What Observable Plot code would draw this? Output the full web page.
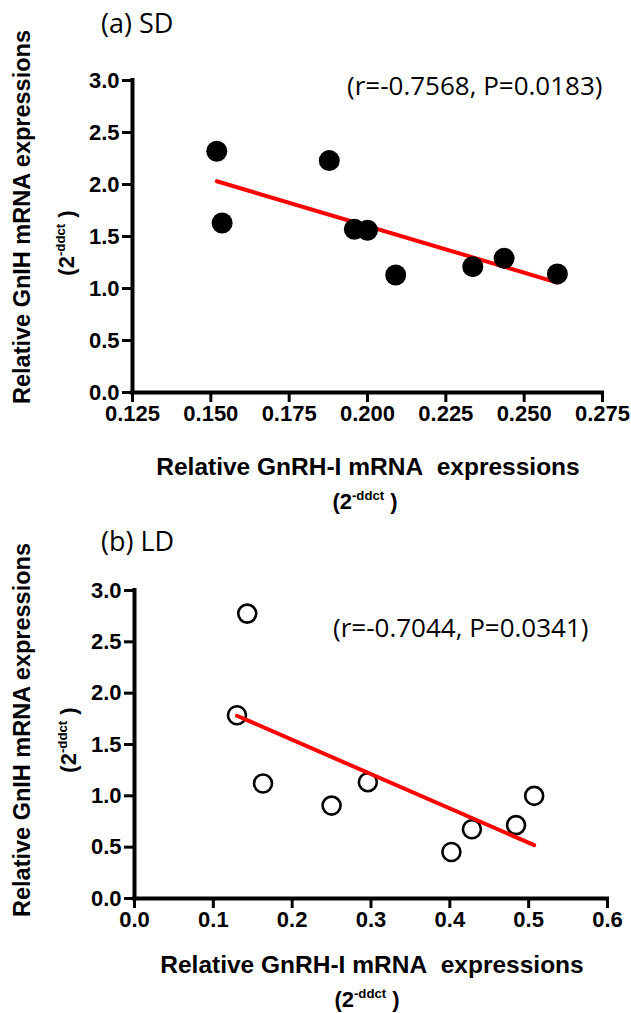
<!DOCTYPE html>
<html>
<head>
<meta charset="utf-8">
<script src="https://cdn.jsdelivr.net/npm/d3@7"></script>
<script src="https://cdn.jsdelivr.net/npm/@observablehq/plot@0.6"></script>
<style>
  html, body { margin: 0; padding: 0; background: #fff; }
  #root { position: relative; width: 631px; height: 1013px; overflow: hidden; background: #fff; }
  .panel { position: absolute; left: 0; }
  .t { position: absolute; white-space: nowrap; color: #000; line-height: 1; }
  .title, .note { font-family: "Open Sans", "Lato", sans-serif; font-weight: normal; }
  .title { font-size: 27px; }
  .note { font-size: 26px; }
  .lab { font-family: "Liberation Sans", Arial, sans-serif; font-weight: bold; }
  .c { transform: translate(-50%, -50%); }
  .r { transform: translate(-50%, -50%) rotate(-90deg); }
  sup { font-size: 0.6em; vertical-align: 0.7em; line-height: 0; }
</style>
</head>
<body>
<div id="root"></div>
<script>
// ---------- data ----------
const sdX = [0.1519, 0.1536, 0.1878, 0.1958, 0.2000, 0.2090, 0.2336, 0.2436, 0.2606];
const sdY = [2.32, 1.63, 2.23, 1.57, 1.56, 1.13, 1.21, 1.29, 1.14];
const ldX = [0.130, 0.143, 0.163, 0.250, 0.296, 0.402, 0.428, 0.484, 0.507];
const ldY = [1.785, 2.775, 1.12, 0.905, 1.133, 0.453, 0.674, 0.715, 1.00];

const yTicks = [0, 0.5, 1.0, 1.5, 2.0, 2.5, 3.0];
const sdXTicks = [0.125, 0.150, 0.175, 0.200, 0.225, 0.250, 0.275];
const ldXTicks = [0, 0.1, 0.2, 0.3, 0.4, 0.5, 0.6];

const titles = ["(a) SD", "(b) LD"];
const notes = ["(r=-0.7568, P=0.0183)", "(r=-0.7044, P=0.0341)"];
const yLabel = "Relative GnIH mRNA expressions";
const xLabel = "Relative GnRH-I mRNA\u00a0\u00a0expressions";
const unitBase = "(2";
const unitSup = "-ddct";
const unitEnd = "\u00a0)";

// ---------- drawing ----------
const root = document.getElementById("root");

function rows(xs, ys) { return xs.map((x, i) => ({x, y: ys[i]})); }

function panel({data, xDomain, xTicks, xFmt, top, height, margins, filled}) {
  const dots = filled
    ? Plot.dot(data, {x: "x", y: "y", r: 10.5, fill: "black"})
    : Plot.dot(data, {x: "x", y: "y", r: 9, fill: "white", stroke: "black", strokeWidth: 2.6});
  const reg = Plot.linearRegressionY(data, {x: "x", y: "y", stroke: "#ff0000", strokeWidth: 4, ci: 0});
  const chart = Plot.plot({
    width: 631,
    height,
    ...margins,
    style: {fontFamily: "Liberation Sans, Arial, sans-serif", fontSize: "22px", fontWeight: "bold", color: "black", background: "transparent", overflow: "visible"},
    x: {domain: xDomain, ticks: xTicks},
    y: {domain: [0, 3], ticks: yTicks},
    marks: [
      Plot.axisX({ticks: xTicks, tickFormat: d3.format(xFmt), tickSize: 10, tickPadding: 3, strokeWidth: 3, label: null, fontSize: 22, fontWeight: "bold"}),
      Plot.axisY({ticks: yTicks, tickFormat: d3.format(".1f"), tickSize: 10, tickPadding: 3, strokeWidth: 3, label: null, fontSize: 22, fontWeight: "bold"}),
      Plot.ruleY([0], {strokeWidth: 4, strokeLinecap: "square"}),
      Plot.ruleX([xDomain[0]], {strokeWidth: 4, strokeLinecap: "square"}),
      ...(filled ? [reg, dots] : [dots, reg])
    ]
  });
  chart.classList.add("panel");
  chart.style.top = top + "px";
  root.appendChild(chart);
}

panel({data: rows(sdX, sdY), xDomain: [0.125, 0.275], xTicks: sdXTicks, xFmt: ".3f",
  top: 0, height: 440, margins: {marginTop: 80, marginBottom: 48, marginLeft: 132, marginRight: 29}, filled: true});
panel({data: rows(ldX, ldY), xDomain: [0, 0.6], xTicks: ldXTicks, xFmt: ".1f",
  top: 500, height: 440, margins: {marginTop: 90, marginBottom: 42, marginLeft: 134, marginRight: 24}, filled: false});

function addText(cls, html, x, y, size) {
  const d = document.createElement("div");
  d.className = "t " + cls;
  d.style.left = x + "px";
  d.style.top = y + "px";
  if (size) d.style.fontSize = size + "px";
  d.innerHTML = html;
  root.appendChild(d);
  return d;
}
const unitHTML = unitBase + "<sup>" + unitSup + "</sup>" + unitEnd;

// panel a texts
addText("title", titles[0], 101, 9);
addText("note", notes[0], 347, 72);
addText("lab r", yLabel, 23, 217, 23.5);
addText("lab r", unitHTML, 67, 243, 22);
addText("lab c", xLabel, 368, 467, 24.5);
addText("lab c", unitHTML, 365, 502, 22);

// panel b texts
addText("title", titles[1], 101, 527);
addText("note", notes[1], 333, 614);
addText("lab r", yLabel, 23, 730, 23.5);
addText("lab r", unitHTML, 69, 740, 22);
addText("lab c", xLabel, 372, 965, 24.5);
addText("lab c", unitHTML, 367, 1000, 22);
</script>
</body>
</html>
